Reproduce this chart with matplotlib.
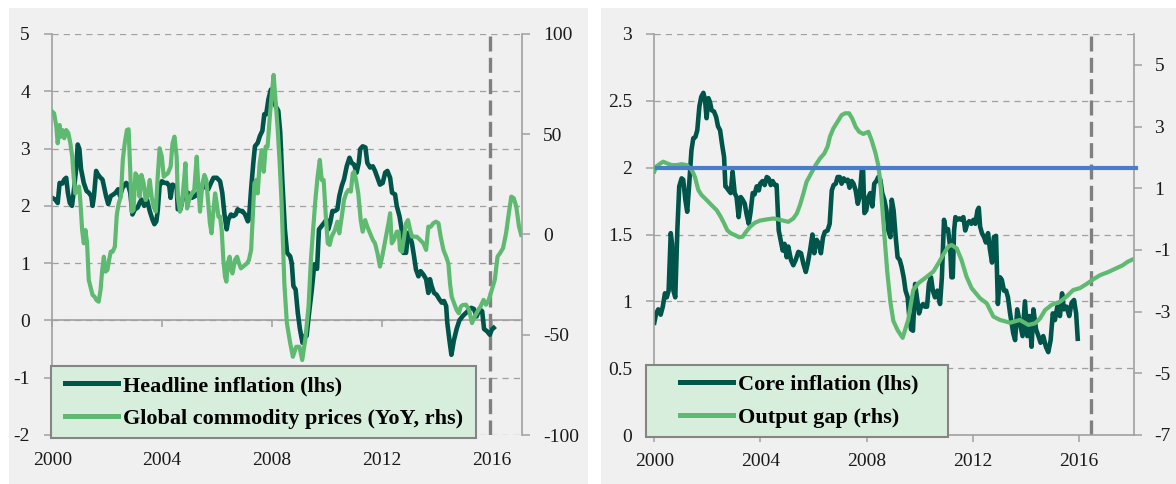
"""
Headline / core inflation vs commodity prices and output gap (two panels)
"""

import matplotlib
matplotlib.use("Agg")
import matplotlib.pyplot as plt
from matplotlib.patches import Rectangle
from matplotlib.legend_handler import HandlerLine2D

plt.rcParams['font.family'] = ['Liberation Serif', 'DejaVu Serif']
plt.rcParams['axes.unicode_minus'] = False

# ---------------- data ----------------
# Left panel: headline inflation (lhs, %)
hl_t = [2000.00, 2000.11, 2000.20, 2000.27, 2000.37, 2000.44, 2000.51, 2000.57, 2000.64, 2000.72,
        2000.78, 2000.87, 2000.93, 2000.99, 2001.05, 2001.15, 2001.25, 2001.33, 2001.42, 2001.47,
        2001.52, 2001.60, 2001.66, 2001.76, 2001.83, 2001.88, 2001.96, 2002.04, 2002.13, 2002.23,
        2002.31, 2002.40, 2002.47, 2002.56, 2002.62, 2002.69, 2002.76, 2002.84, 2002.92, 2003.01,
        2003.11, 2003.18, 2003.25, 2003.35, 2003.45, 2003.55, 2003.65, 2003.72, 2003.79, 2003.84,
        2003.91, 2003.99, 2004.09, 2004.18, 2004.26, 2004.31, 2004.38, 2004.45, 2004.53, 2004.57,
        2004.67, 2004.77, 2004.84, 2004.94, 2005.08, 2005.20, 2005.32, 2005.44, 2005.56, 2005.68,
        2005.78, 2005.87, 2005.99, 2006.11, 2006.19, 2006.27, 2006.35, 2006.41, 2006.51, 2006.59,
        2006.68, 2006.75, 2006.84, 2006.92, 2007.02, 2007.12, 2007.16, 2007.24, 2007.32, 2007.38,
        2007.48, 2007.56, 2007.65, 2007.72, 2007.79, 2007.87, 2007.96, 2008.05, 2008.13, 2008.23,
        2008.30, 2008.38, 2008.47, 2008.55, 2008.66, 2008.72, 2008.78, 2008.86, 2008.94, 2009.02,
        2009.11, 2009.18, 2009.26, 2009.35, 2009.45, 2009.54, 2009.64, 2009.71, 2009.81, 2009.91,
        2009.98, 2010.05, 2010.12, 2010.20, 2010.29, 2010.38, 2010.45, 2010.54, 2010.62, 2010.72,
        2010.82, 2010.90, 2010.99, 2011.08, 2011.16, 2011.21, 2011.30, 2011.40, 2011.47, 2011.57,
        2011.67, 2011.75, 2011.84, 2011.93, 2012.03, 2012.12, 2012.20, 2012.30, 2012.37, 2012.48,
        2012.54, 2012.64, 2012.72, 2012.78, 2012.88, 2012.96, 2013.09, 2013.17, 2013.24, 2013.33,
        2013.41, 2013.51, 2013.61, 2013.69, 2013.75, 2013.81, 2013.90, 2013.99, 2014.09, 2014.18,
        2014.26, 2014.34, 2014.38, 2014.46, 2014.53, 2014.62, 2014.72, 2014.82, 2014.95, 2015.10,
        2015.25, 2015.35, 2015.45, 2015.55, 2015.65, 2015.72, 2015.83, 2015.93, 2016.00, 2016.07]
hl_v = [2.14, 2.11, 2.05, 2.40, 2.39, 2.46, 2.49, 2.23, 2.05, 2.00,
        2.23, 2.64, 3.07, 2.99, 2.64, 2.40, 2.26, 2.23, 2.17, 2.00,
        2.17, 2.61, 2.55, 2.49, 2.46, 2.35, 2.17, 2.03, 2.17, 2.20,
        2.23, 2.29, 2.17, 2.32, 2.35, 2.40, 2.37, 2.23, 1.85, 1.94,
        1.97, 2.05, 2.11, 2.00, 2.11, 1.91, 1.76, 1.68, 1.73, 1.91,
        2.35, 2.43, 2.40, 2.40, 2.35, 2.14, 2.37, 2.35, 2.35, 1.94,
        1.94, 2.17, 2.14, 2.23, 2.14, 2.17, 2.23, 2.29, 2.35, 2.29,
        2.40, 2.49, 2.49, 2.43, 2.23, 1.85, 1.59, 1.76, 1.85, 1.82,
        1.85, 1.94, 1.91, 1.91, 1.85, 1.73, 1.76, 2.29, 2.75, 3.04,
        3.10, 3.22, 3.31, 3.60, 3.60, 3.86, 4.03, 3.92, 3.74, 3.66,
        3.28, 2.40, 1.59, 1.18, 1.12, 1.00, 0.60, 0.54, 0.13, -0.16,
        -0.39, -0.27, -0.27, 0.13, 0.54, 0.98, 0.90, 1.59, 1.65, 1.71,
        1.76, 1.59, 1.71, 1.91, 1.91, 1.94, 2.17, 2.35, 2.46, 2.69,
        2.84, 2.75, 2.72, 2.58, 2.75, 2.99, 3.04, 3.02, 2.75, 2.67,
        2.69, 2.61, 2.49, 2.37, 2.40, 2.58, 2.61, 2.49, 2.23, 2.20,
        2.00, 1.82, 1.59, 1.18, 1.18, 1.53, 1.36, 1.12, 0.89, 0.77,
        0.86, 0.80, 0.72, 0.48, 0.72, 0.60, 0.48, 0.45, 0.37, 0.31,
        0.34, 0.25, -0.04, -0.35, -0.60, -0.35, -0.15, 0.00, 0.08, 0.15,
        0.22, 0.20, 0.07, 0.20, 0.16, -0.15, -0.19, -0.25, -0.16, -0.13]

# Left panel: global commodity prices, YoY (rhs, %)
cm_t = [2000.00, 2000.07, 2000.15, 2000.20, 2000.27, 2000.32, 2000.37, 2000.44, 2000.51, 2000.59,
        2000.66, 2000.73, 2000.78, 2000.84, 2000.91, 2000.98, 2001.03, 2001.09, 2001.15, 2001.21,
        2001.27, 2001.33, 2001.39, 2001.47, 2001.54, 2001.61, 2001.69, 2001.76, 2001.82, 2001.88,
        2001.94, 2002.01, 2002.07, 2002.13, 2002.20, 2002.28, 2002.35, 2002.42, 2002.50, 2002.57,
        2002.64, 2002.72, 2002.78, 2002.84, 2002.89, 2002.96, 2003.03, 2003.11, 2003.18, 2003.25,
        2003.33, 2003.40, 2003.47, 2003.55, 2003.62, 2003.69, 2003.77, 2003.84, 2003.91, 2003.99,
        2004.06, 2004.13, 2004.21, 2004.31, 2004.38, 2004.45, 2004.53, 2004.57, 2004.65, 2004.72,
        2004.80, 2004.85, 2004.91, 2004.98, 2005.08, 2005.17, 2005.26, 2005.32, 2005.38, 2005.47,
        2005.54, 2005.61, 2005.68, 2005.74, 2005.80, 2005.87, 2005.93, 2005.99, 2006.05, 2006.11,
        2006.17, 2006.23, 2006.29, 2006.34, 2006.39, 2006.46, 2006.51, 2006.56, 2006.61, 2006.65,
        2006.73, 2006.80, 2006.87, 2006.95, 2007.02, 2007.09, 2007.16, 2007.24, 2007.31, 2007.36,
        2007.43, 2007.48, 2007.55, 2007.63, 2007.70, 2007.77, 2007.84, 2007.92, 2007.99, 2008.06,
        2008.13, 2008.21, 2008.28, 2008.35, 2008.45, 2008.54, 2008.66, 2008.76, 2008.88, 2009.00,
        2009.10, 2009.21, 2009.33, 2009.42, 2009.50, 2009.59, 2009.66, 2009.74, 2009.81, 2009.88,
        2009.96, 2010.03, 2010.10, 2010.17, 2010.29, 2010.38, 2010.45, 2010.54, 2010.62, 2010.70,
        2010.78, 2010.87, 2010.94, 2010.99, 2011.06, 2011.14, 2011.23, 2011.30, 2011.39, 2011.47,
        2011.57, 2011.67, 2011.75, 2011.84, 2011.93, 2012.01, 2012.08, 2012.15, 2012.24, 2012.30,
        2012.36, 2012.44, 2012.54, 2012.61, 2012.66, 2012.73, 2012.81, 2012.88, 2012.95, 2013.03,
        2013.10, 2013.17, 2013.27, 2013.39, 2013.51, 2013.61, 2013.69, 2013.78, 2013.87, 2013.97,
        2014.06, 2014.14, 2014.24, 2014.34, 2014.42, 2014.48, 2014.54, 2014.63, 2014.72, 2014.80,
        2014.87, 2014.94, 2015.06, 2015.17, 2015.28, 2015.38, 2015.48, 2015.59, 2015.70, 2015.79,
        2015.89, 2016.00, 2016.11, 2016.21, 2016.30, 2016.41, 2016.52, 2016.62, 2016.71, 2016.80,
        2016.89, 2016.99, 2017.07]
cm_v = [61.3, 60.4, 53.8, 45.5, 54.6, 48.8, 52.1, 48.0, 52.1, 50.5,
        45.5, 38.8, 28.8, 20.5, 22.2, 23.9, 15.5, 2.2, -4.4, 2.2,
        -4.4, -22.7, -26.0, -30.2, -31.0, -32.7, -33.5, -27.7, -17.7, -11.1,
        -18.5, -17.7, -12.7, -8.6, -8.6, -6.1, 9.7, 15.5, 18.9, 37.2,
        45.5, 52.1, 52.5, 32.2, 11.4, 12.2, 30.5, 28.8, 18.9, 29.7,
        25.5, 17.2, 18.9, 27.2, 18.9, 13.9, 11.4, 28.8, 43.0, 38.8,
        28.8, 29.7, 30.5, 33.8, 45.5, 48.8, 38.8, 18.9, 11.4, 15.5,
        27.2, 35.5, 13.0, 17.2, 20.5, 22.2, 38.8, 23.9, 11.4, 25.5,
        29.7, 27.2, 15.5, 5.6, 0.6, 12.2, 20.5, 15.5, 8.9, 8.9,
        2.2, -12.7, -21.0, -23.5, -14.4, -11.1, -17.7, -19.4, -16.0, -12.7,
        -11.1, -14.4, -16.9, -16.0, -15.2, -14.4, -12.7, -7.7, 12.2, 25.5,
        27.2, 20.5, 35.5, 42.1, 31.3, 43.8, 43.8, 58.8, 69.6, 79.6,
        67.1, 52.1, 35.5, 15.5, -24.4, -44.0, -54.0, -61.0, -56.0, -56.0,
        -62.6, -52.6, -36.0, -12.0, 3.0, 18.9, 28.8, 37.2, 27.2, 27.2,
        8.9, -4.4, -5.2, -1.1, 2.2, 6.4, 0.6, 8.9, 17.2, 20.5,
        22.2, 21.4, 30.5, 31.3, 27.2, 20.5, 7.2, 1.4, 7.2, 3.9,
        0.6, -2.7, -4.4, -9.4, -16.0, -11.1, -6.1, -1.1, 5.6, 10.6,
        -4.4, -2.7, 1.4, 1.4, -7.7, -8.6, -1.1, 5.6, 7.2, 2.2,
        -1.1, -1.1, -1.1, -2.7, -4.4, -7.7, 3.9, 3.9, 5.6, 6.4,
        5.6, -1.1, -7.7, -11.1, -14.4, -24.4, -31.0, -34.3, -37.7, -39.3,
        -36.0, -35.2, -35.0, -37.5, -44.2, -40.9, -38.4, -35.9, -32.6, -35.0,
        -32.6, -27.6, -22.6, -11.0, -9.3, -6.8, 0.7, 10.6, 18.9, 18.1,
        14.0, 4.0, -0.2]

# Right panel: core inflation (lhs, %)
ci_t = [2000.00, 2000.07, 2000.15, 2000.24, 2000.32, 2000.40, 2000.47, 2000.54, 2000.62, 2000.67,
        2000.72, 2000.79, 2000.87, 2000.94, 2001.03, 2001.09, 2001.17, 2001.24, 2001.32, 2001.40,
        2001.47, 2001.55, 2001.62, 2001.70, 2001.77, 2001.85, 2001.91, 2001.97, 2002.04, 2002.10,
        2002.16, 2002.25, 2002.33, 2002.40, 2002.48, 2002.55, 2002.63, 2002.68, 2002.73, 2002.80,
        2002.88, 2002.95, 2003.03, 2003.10, 2003.18, 2003.26, 2003.33, 2003.41, 2003.48, 2003.56,
        2003.63, 2003.71, 2003.78, 2003.86, 2003.94, 2003.99, 2004.08, 2004.16, 2004.24, 2004.31,
        2004.39, 2004.46, 2004.54, 2004.61, 2004.69, 2004.76, 2004.84, 2004.91, 2004.99, 2005.05,
        2005.15, 2005.24, 2005.33, 2005.43, 2005.53, 2005.62, 2005.71, 2005.78, 2005.87, 2005.96,
        2006.03, 2006.12, 2006.21, 2006.28, 2006.36, 2006.43, 2006.53, 2006.61, 2006.69, 2006.76,
        2006.84, 2006.91, 2006.99, 2007.06, 2007.14, 2007.21, 2007.29, 2007.36, 2007.44, 2007.51,
        2007.59, 2007.67, 2007.74, 2007.82, 2007.87, 2007.92, 2007.99, 2008.07, 2008.14, 2008.22,
        2008.29, 2008.37, 2008.44, 2008.52, 2008.59, 2008.67, 2008.75, 2008.82, 2008.90, 2008.95,
        2009.02, 2009.10, 2009.17, 2009.25, 2009.32, 2009.40, 2009.47, 2009.55, 2009.60, 2009.68,
        2009.75, 2009.83, 2009.90, 2009.98, 2010.05, 2010.13, 2010.20, 2010.28, 2010.35, 2010.43,
        2010.50, 2010.58, 2010.67, 2010.77, 2010.84, 2010.92, 2010.99, 2011.07, 2011.15, 2011.20,
        2011.25, 2011.30, 2011.35, 2011.42, 2011.50, 2011.57, 2011.65, 2011.72, 2011.80, 2011.87,
        2011.95, 2012.03, 2012.10, 2012.18, 2012.23, 2012.28, 2012.35, 2012.43, 2012.50, 2012.58,
        2012.65, 2012.73, 2012.80, 2012.88, 2012.95, 2013.03, 2013.10, 2013.18, 2013.26, 2013.33,
        2013.41, 2013.53, 2013.60, 2013.68, 2013.78, 2013.88, 2013.97, 2014.06, 2014.14, 2014.22,
        2014.29, 2014.39, 2014.48, 2014.56, 2014.66, 2014.76, 2014.85, 2014.94, 2015.02, 2015.10,
        2015.19, 2015.29, 2015.37, 2015.44, 2015.54, 2015.64, 2015.73, 2015.82, 2015.90, 2015.96]
ci_v = [0.84, 0.91, 0.94, 0.90, 0.96, 1.06, 1.03, 1.08, 1.51, 1.43,
        1.08, 1.03, 1.54, 1.86, 1.92, 1.91, 1.76, 1.67, 1.89, 2.13,
        2.22, 2.23, 2.28, 2.46, 2.53, 2.56, 2.51, 2.37, 2.52, 2.49,
        2.43, 2.42, 2.38, 2.31, 2.28, 2.18, 2.08, 1.86, 1.85, 1.83,
        1.81, 1.97, 1.81, 1.78, 1.63, 1.78, 1.76, 1.73, 1.65, 1.58,
        1.67, 1.81, 1.80, 1.86, 1.83, 1.88, 1.90, 1.87, 1.93, 1.92,
        1.87, 1.90, 1.87, 1.87, 1.53, 1.46, 1.38, 1.43, 1.33, 1.41,
        1.31, 1.27, 1.31, 1.37, 1.36, 1.28, 1.22, 1.28, 1.38, 1.50,
        1.36, 1.46, 1.43, 1.36, 1.48, 1.52, 1.53, 1.58, 1.83, 1.87,
        1.88, 1.93, 1.93, 1.88, 1.92, 1.90, 1.91, 1.85, 1.90, 1.88,
        1.83, 1.73, 1.78, 1.98, 1.98, 1.66, 1.68, 1.78, 1.81, 1.71,
        1.88, 1.90, 1.93, 1.91, 1.81, 1.76, 1.68, 1.53, 1.48, 1.76,
        1.68, 1.48, 1.33, 1.31, 1.26, 1.18, 1.08, 1.03, 0.91, 0.79,
        0.78, 1.13, 1.03, 0.91, 0.96, 0.98, 0.96, 0.96, 1.13, 1.18,
        1.08, 1.03, 1.08, 0.98, 1.18, 1.61, 1.53, 1.54, 1.41, 1.18,
        1.18, 1.53, 1.63, 1.61, 1.62, 1.61, 1.63, 1.53, 1.58, 1.60,
        1.58, 1.61, 1.58, 1.68, 1.70, 1.56, 1.51, 1.48, 1.44, 1.51,
        1.39, 1.29, 1.48, 1.49, 0.98, 1.18, 1.16, 1.08, 1.08, 1.03,
        0.91, 0.76, 0.71, 0.94, 0.84, 0.74, 1.00, 0.74, 0.89, 0.66,
        0.94, 0.79, 0.74, 0.69, 0.74, 0.66, 0.62, 0.71, 0.91, 0.86,
        0.96, 0.89, 1.06, 0.94, 0.96, 0.89, 0.99, 1.01, 0.91, 0.72]

# Right panel: output gap (rhs, % of potential)
og_t = [2000.00, 2000.07, 2000.15, 2000.24, 2000.34, 2000.47, 2000.65, 2000.84, 2001.03, 2001.22,
        2001.41, 2001.53, 2001.66, 2001.78, 2001.97, 2002.16, 2002.35, 2002.50, 2002.63, 2002.75,
        2002.88, 2003.04, 2003.20, 2003.33, 2003.46, 2003.61, 2003.79, 2003.98, 2004.24, 2004.49,
        2004.67, 2004.86, 2005.05, 2005.24, 2005.37, 2005.49, 2005.62, 2005.74, 2005.91, 2006.08,
        2006.25, 2006.41, 2006.53, 2006.62, 2006.75, 2006.91, 2007.06, 2007.19, 2007.34, 2007.46,
        2007.59, 2007.72, 2007.88, 2008.07, 2008.19, 2008.34, 2008.44, 2008.52, 2008.60, 2008.68,
        2008.78, 2008.90, 2009.01, 2009.17, 2009.36, 2009.57, 2009.76, 2009.95, 2010.27, 2010.52,
        2010.71, 2010.89, 2011.08, 2011.21, 2011.40, 2011.58, 2011.77, 2011.96, 2012.28, 2012.53,
        2012.78, 2013.03, 2013.41, 2013.78, 2014.10, 2014.35, 2014.54, 2014.73, 2014.98, 2015.29,
        2015.54, 2015.79, 2016.04, 2016.30, 2016.55, 2016.80, 2017.10, 2017.40, 2017.65, 2017.85,
        2018.00]
og_v = [1.54, 1.70, 1.75, 1.81, 1.86, 1.81, 1.75, 1.75, 1.78, 1.75,
        1.59, 1.37, 0.94, 0.78, 0.62, 0.45, 0.29, 0.08, -0.14, -0.36,
        -0.46, -0.52, -0.59, -0.57, -0.41, -0.25, -0.12, -0.05, -0.01, 0.02,
        -0.01, -0.05, -0.09, 0.02, 0.18, 0.45, 0.83, 1.21, 1.48, 1.75,
        1.97, 2.13, 2.35, 2.67, 2.94, 3.16, 3.37, 3.43, 3.43, 3.26,
        2.99, 2.83, 2.76, 2.83, 2.56, 2.13, 1.75, 1.20, 0.30, -0.60,
        -1.70, -2.70, -3.30, -3.60, -3.85, -3.27, -2.30, -2.08, -1.87, -1.70,
        -1.43, -1.16, -0.89, -0.84, -0.95, -1.33, -1.87, -2.24, -2.57, -2.73,
        -3.16, -3.27, -3.36, -3.27, -3.43, -3.38, -3.22, -2.95, -2.78, -2.68,
        -2.51, -2.30, -2.24, -2.10, -1.95, -1.82, -1.72, -1.60, -1.50, -1.38,
        -1.32]

# 2% reference line (lhs)
target_t = [2000.1, 2018.15]
target_v = [2.0, 2.0]

years = [2000, 2004, 2008, 2012, 2016]
left_yticks = [-2, -1, 0, 1, 2, 3, 4, 5]
left_rticks = [-100, -50, 0, 50, 100]
right_yticks = [0, 0.5, 1, 1.5, 2, 2.5, 3]
right_ylabels = ['0', '0.5', '1', '1.5', '2', '2.5', '3']
right_rticks = [-7, -5, -3, -1, 1, 3, 5]

# ---------------- styling ----------------
DARK = '#00554a'
LIGHT = '#5eba70'
BLUE = '#4a7ccc'
PANEL = '#f0f0f0'
GRID = '#a0a0a0'
SPINE = '#a0a0a0'
VLINE = '#808080'
LEG_FACE = '#d8eedc'
TXT = '#1a1a1a'
FS = 14
LEG_FS = 16

W, H = 1176, 484


def fx(px):
    return px / W


def fy(px):
    return 1 - px / H


fig = plt.figure(figsize=(W / 100, H / 100), dpi=100)
fig.patch.set_facecolor('white')

# grey panel backgrounds
for x0, x1 in [(9, 588), (601, 1176)]:
    fig.add_artist(Rectangle((fx(x0), 0), fx(x1 - x0), fy(8), transform=fig.transFigure,
                             facecolor=PANEL, edgecolor='none', zorder=-10))


def base_style(ax, ax2):
    ax.set_facecolor('none')
    ax2.set_facecolor('none')
    for s in ['top', 'right']:
        ax.spines[s].set_visible(False)
    for s in ['top', 'left', 'bottom']:
        ax2.spines[s].set_visible(False)
    ax.spines['left'].set_color(SPINE)
    ax.spines['left'].set_linewidth(1.2)
    ax2.spines['right'].set_color(SPINE)
    ax2.spines['right'].set_linewidth(1.2)
    ax.yaxis.grid(True, color=GRID, lw=0.9, ls=(0, (5, 4)))
    ax.tick_params(axis='y', direction='out', length=6, width=1.1, color=SPINE,
                   pad=10, labelsize=FS, labelcolor=TXT)
    ax2.tick_params(axis='y', direction='out', length=6, width=1.1, color=SPINE,
                    pad=9, labelsize=FS, labelcolor=TXT)
    ax.set_xticks(years)
    ax.set_xticklabels([str(y) for y in years])


def add_legend(ax2, handles, labels, bbox, xpad):
    leg = ax2.legend(handles, labels, loc='lower left', bbox_to_anchor=bbox, mode='expand',
                     borderaxespad=0, frameon=True, fancybox=False, edgecolor='#858585',
                     facecolor=LEG_FACE, framealpha=1,
                     prop={'weight': 'bold', 'size': LEG_FS},
                     handlelength=2.4 + xpad, handletextpad=0.22, labelspacing=0.55,
                     borderpad=0.42,
                     handler_map={h: HandlerLine2D(xpad=xpad) for h in handles})
    leg.get_frame().set_linewidth(1.5)
    for h in leg.legend_handles:
        h.set_linewidth(3.6)
    return leg


# ---------------- left panel ----------------
axL = fig.add_axes([fx(52.2), 1 - 435 / H, fx(469.8), 401 / H])
axL2 = axL.twinx()
base_style(axL, axL2)

axL.set_xlim(2000, 2017.1)
axL.set_ylim(-2, 5)
axL.set_yticks(left_yticks)
axL2.set_ylim(-100, 100)
axL2.set_yticks(left_rticks)

axL.spines['bottom'].set_visible(False)
axL.tick_params(axis='x', length=0, pad=12, labelsize=FS, labelcolor=TXT)
# x axis line crossing at 0 (lhs) with outward ticks
zero_axis = axL.secondary_xaxis(2 / 7)
zero_axis.set_xticks(years)
zero_axis.tick_params(axis='x', direction='out', length=5, width=1.1, color=SPINE,
                      labelbottom=False, labeltop=False)
for s in zero_axis.spines.values():
    s.set_color(SPINE)
    s.set_linewidth(1.2)

axL.axvline(2015.95, color=VLINE, lw=2.4, ls=(0, (4.5, 1.9)), zorder=1.8)
l1, = axL.plot(hl_t, hl_v, color=DARK, lw=3.3, solid_joinstyle='round', zorder=2)
l2, = axL2.plot(cm_t, cm_v, color=LIGHT, lw=3.0, solid_joinstyle='round', zorder=2)

add_legend(axL2, [l1, l2], ['Headline inflation (lhs)', 'Global commodity prices (YoY, rhs)'],
           (-0.003, -0.008, 0.905, 0.18), 0.2)

# ---------------- right panel ----------------
axR = fig.add_axes([fx(654.3), 1 - 435 / H, fx(479.4), 401 / H])
axR2 = axR.twinx()
base_style(axR, axR2)

axR.set_xlim(2000, 2018.07)
axR.set_ylim(0, 3)
axR.set_yticks(right_yticks)
axR.set_yticklabels(right_ylabels)
axR2.set_ylim(-7, 6)
axR2.set_yticks(right_rticks)

axR.spines['bottom'].set_color(SPINE)
axR.spines['bottom'].set_linewidth(1.2)
axR.tick_params(axis='x', direction='out', length=5, width=1.1, color=SPINE,
                pad=8, labelsize=FS, labelcolor=TXT)

axR.axvline(2016.45, color=VLINE, lw=2.4, ls=(0, (4.5, 1.9)), zorder=1.8)
r1, = axR.plot(ci_t, ci_v, color=DARK, lw=3.3, solid_joinstyle='round', zorder=2)
r2, = axR2.plot(og_t, og_v, color=LIGHT, lw=3.0, solid_joinstyle='round', zorder=2)
axR2.plot(target_t, target_v, color=BLUE, lw=3.0, transform=axR.transData,
          clip_on=False, zorder=3)

add_legend(axR2, [r1, r2], ['Core inflation (lhs)', 'Output gap (rhs)'],
           (-0.0173, -0.005, 0.629, 0.18), 1.1)

fig.savefig('out.png', dpi=100, facecolor='white')
